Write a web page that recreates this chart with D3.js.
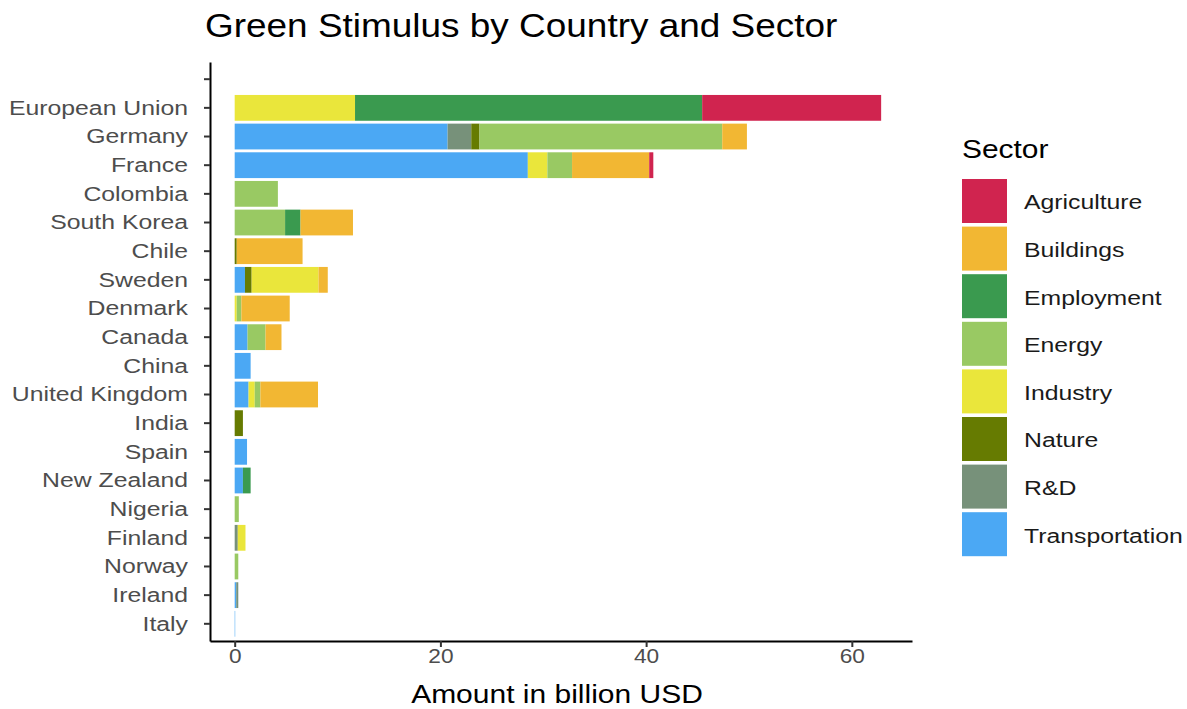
<!DOCTYPE html>
<html lang="en">
<head>
  <meta charset="utf-8">
  <title>Green Stimulus by Country and Sector</title>
  <script src="https://d3js.org/d3.v7.min.js" charset="utf-8"></script>
  <style>
    body { margin: 0; background: #fff; }
    text { font-family: "Liberation Sans", Arial, sans-serif; }
  </style>
</head>
<body>
  <script type="text/javascript">
    // countries, top to bottom (first is an empty category, as in the source)
    const countries = ["", "European Union", "Germany", "France", "Colombia", "South Korea", "Chile",
      "Sweden", "Denmark", "Canada", "China", "United Kingdom", "India", "Spain", "New Zealand",
      "Nigeria", "Finland", "Norway", "Ireland", "Italy"]

    // legend order
    const sectors = ["Agriculture", "Buildings", "Employment", "Energy", "Industry", "Nature", "R&D", "Transportation"]
    const sectorColors = ["#D0244F", "#F2B733", "#3A9A4F", "#99C963", "#EAE63B", "#667B01", "#77917A", "#4BA8F4"]

    // billion USD per sector, same order as countries
    const agriculture    = [0, 17.4, 0, 0.4, 0, 0, 0, 0, 0, 0, 0, 0, 0, 0, 0, 0, 0, 0, 0, 0]
    const buildings      = [0, 0, 2.4, 7.5, 0, 5.1, 6.4, 0.9, 4.7, 1.55, 0, 5.6, 0, 0, 0, 0, 0, 0, 0, 0]
    const employment     = [0, 33.75, 0, 0, 0, 1.5, 0, 0, 0, 0, 0, 0, 0, 0, 0.75, 0, 0, 0, 0, 0]
    const energy         = [0, 0, 23.6, 2.4, 4.2, 4.9, 0, 0, 0.45, 1.75, 0, 0.55, 0, 0, 0, 0.4, 0, 0.35, 0, 0]
    const industry       = [0, 11.7, 0, 1.9, 0, 0, 0, 6.5, 0.2, 0, 0, 0.6, 0, 0, 0, 0, 0.75, 0, 0, 0]
    const nature         = [0, 0, 0.8, 0, 0, 0, 0.2, 0.65, 0, 0, 0, 0, 0.8, 0, 0, 0, 0, 0, 0, 0]
    const rnd            = [0, 0, 2.3, 0, 0, 0, 0, 0, 0, 0, 0, 0, 0, 0, 0, 0, 0.3, 0, 0.2, 0]
    const transportation = [0, 0, 20.7, 28.5, 0, 0, 0, 1.0, 0, 1.25, 1.55, 1.35, 0, 1.2, 0.8, 0, 0, 0, 0.15, 0.05]

    const xTicks = [0, 20, 40, 60]

    const values = {
      "Agriculture": agriculture, "Buildings": buildings, "Employment": employment, "Energy": energy,
      "Industry": industry, "Nature": nature, "R&D": rnd, "Transportation": transportation
    }

    const table = countries.map((c, i) => {
      const row = { country: c }
      sectors.forEach(s => row[s] = values[s][i])
      return row
    })

    const width = 1187, height = 709
    const margin = { top: 62, right: 275, bottom: 68, left: 210 }

    const svg = d3.select("body").append("svg")
      .attr("width", width)
      .attr("height", height)

    // the source text is a little wider than Liberation Sans, so stretch it horizontally
    function wideText(g, x, y, sx, size) {
      return g.append("text")
        .attr("transform", `translate(${x},${y}) scale(${sx},1)`)
        .attr("font-size", size)
    }

    // stacked from the axis outward: Transportation first, Agriculture last
    const stackOrder = sectors.slice().reverse()
    const series = d3.stack().keys(stackOrder)(table)

    const x = d3.scaleLinear()
      .domain([-2.4, 65.85])
      .range([margin.left, width - margin.right])

    const y = d3.scaleBand()
      .domain(countries)
      .range([margin.top, height - margin.bottom])
      .paddingInner(0.1)
      .paddingOuter(0.15)

    const color = d3.scaleOrdinal().domain(sectors).range(sectorColors)

    svg.append("g")
      .selectAll("g")
      .data(series)
      .join("g")
      .attr("fill", d => color(d.key))
      .selectAll("rect")
      .data(d => d)
      .join("rect")
      .attr("x", d => x(d[0]))
      .attr("y", d => y(d.data.country))
      .attr("width", d => Math.max(0, x(d[1]) - x(d[0])))
      .attr("height", y.bandwidth())

    // axes
    const xAxis = svg.append("g")
      .attr("transform", `translate(0,${height - margin.bottom})`)
      .call(d3.axisBottom(x).tickValues(xTicks).tickSize(6).tickSizeOuter(0))
    xAxis.select(".domain").attr("stroke", "#000").attr("stroke-width", 2)
    xAxis.selectAll(".tick line").attr("stroke", "#333").attr("stroke-width", 2)
    xAxis.selectAll(".tick text")
      .attr("y", null).attr("dy", null)
      .attr("transform", "translate(0,22) scale(1.08,1)")
      .attr("font-size", 21).attr("fill", "#4d4d4d")
      .attr("font-family", "Liberation Sans, Arial, sans-serif")

    const yAxis = svg.append("g")
      .attr("transform", `translate(${margin.left},0)`)
      .call(d3.axisLeft(y).tickSize(6).tickSizeOuter(0))
    yAxis.select(".domain").attr("stroke", "#000").attr("stroke-width", 2)
    yAxis.selectAll(".tick line").attr("stroke", "#333").attr("stroke-width", 2)
    yAxis.selectAll(".tick text")
      .attr("x", null)
      .attr("transform", "translate(-22,0) scale(1.18,1)")
      .attr("font-size", 21).attr("fill", "#4d4d4d")
      .attr("font-family", "Liberation Sans, Arial, sans-serif")

    // titles
    wideText(svg, 205, 37, 1.12, 33)
      .attr("fill", "#000")
      .text("Green Stimulus by Country and Sector")

    wideText(svg, 557, 703, 1.2, 25)
      .attr("text-anchor", "middle")
      .attr("fill", "#000")
      .text("Amount in billion USD")

    // legend
    const legend = svg.append("g").attr("transform", "translate(962,0)")
    wideText(legend, 0, 158, 1.15, 26)
      .attr("fill", "#000")
      .text("Sector")

    const items = legend.selectAll("g.item")
      .data(sectors)
      .join("g")
      .attr("class", "item")
      .attr("transform", (d, i) => `translate(0,${179 + i * 47.6})`)
    items.append("rect")
      .attr("width", 45)
      .attr("height", 44)
      .attr("fill", d => color(d))
    items.append("text")
      .attr("transform", "translate(62,23) scale(1.18,1)")
      .attr("dy", "0.35em")
      .attr("font-size", 21)
      .attr("fill", "#1a1a1a")
      .text(d => d)
  </script>
</body>
</html>
